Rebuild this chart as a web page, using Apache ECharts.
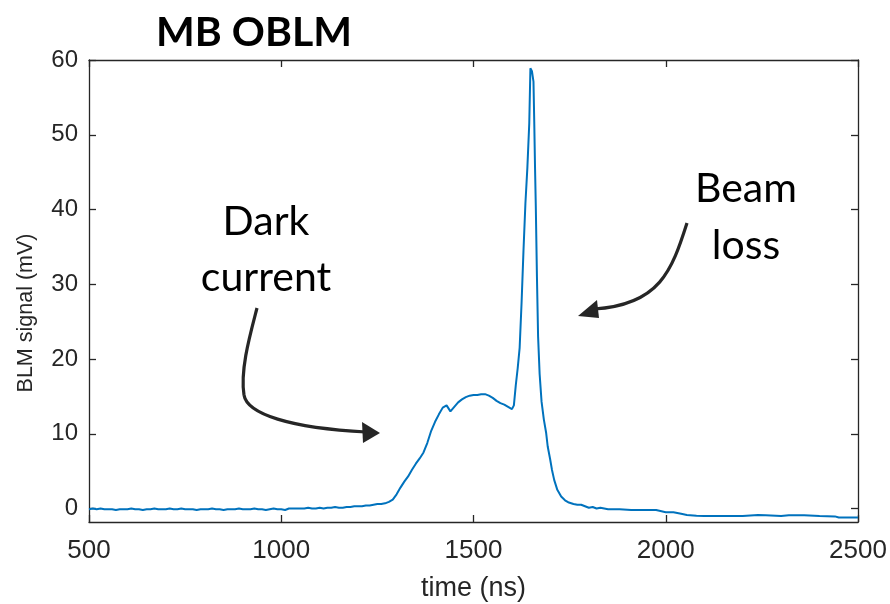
<!DOCTYPE html>
<html>
<head>
<meta charset="utf-8">
<script src="https://cdn.jsdelivr.net/npm/echarts@6/dist/echarts.min.js"></script>
<style>
  html, body { margin: 0; padding: 0; background: #fff; }
  #chart { width: 890px; height: 604px; }
</style>
</head>
<body>
<div id="chart"></div>
<script>
// Oscilloscope trace of the MB OBLM beam loss monitor
const timeNs = [
  500, 510, 520, 530, 540, 550, 560, 570, 580, 590,
  600, 610, 620, 630, 640, 650, 660, 670, 680, 690,
  700, 710, 720, 730, 740, 750, 760, 770, 780, 790,
  800, 810, 820, 830, 840, 850, 860, 870, 880, 890,
  900, 910, 920, 930, 940, 950, 960, 970, 980, 990,
  1000, 1010, 1020, 1030, 1040, 1050, 1060, 1070, 1080, 1090,
  1100, 1110, 1120, 1130, 1140, 1150, 1160, 1170, 1180, 1190,
  1200, 1210, 1220, 1230, 1240, 1250, 1260, 1270, 1280, 1290,
  1300, 1310, 1320, 1330, 1340, 1350, 1360, 1370, 1380, 1390,
  1400, 1410, 1420, 1430, 1440, 1450, 1460, 1470, 1480, 1490,
  1500, 1510, 1520, 1530, 1540, 1550, 1560, 1570, 1580, 1590,
  1600, 1605, 1610, 1615, 1620, 1625, 1630, 1635, 1640, 1645,
  1648, 1652, 1656, 1658, 1660, 1662, 1665, 1668, 1672, 1677,
  1683, 1689, 1693, 1699, 1704, 1710, 1718, 1728, 1738, 1748,
  1760, 1770, 1780, 1790, 1800, 1810, 1820, 1830, 1840, 1850,
  1880, 1910, 1940, 1975, 1980, 2000, 2020, 2040, 2055, 2080,
  2100, 2150, 2200, 2240, 2260, 2300, 2320, 2360, 2400, 2440,
  2450, 2500
];
const signalMv = [
  -0.1, 0.0, -0.1, 0.0, -0.1, -0.1, -0.1, -0.2, -0.1, -0.1,
  -0.1, 0.0, -0.1, -0.1, -0.2, -0.1, -0.1, 0.0, -0.1, -0.1,
  -0.1, 0.0, -0.1, -0.1, 0.0, -0.1, -0.1, -0.1, -0.2, -0.1,
  -0.1, -0.1, 0.0, -0.1, -0.1, -0.2, -0.1, -0.1, -0.1, 0.0,
  -0.1, -0.1, -0.1, 0.0, -0.1, -0.1, -0.2, -0.1, 0.0, -0.1,
  -0.1, -0.2, 0.0, 0.0, 0.0, 0.0, 0.0, 0.1, 0.0, 0.0,
  0.1, 0.0, 0.1, 0.1, 0.2, 0.1, 0.1, 0.2, 0.2, 0.3,
  0.3, 0.3, 0.4, 0.4, 0.5, 0.6, 0.6, 0.7, 0.9, 1.2,
  1.9, 2.8, 3.6, 4.3, 5.2, 6.0, 6.7, 7.5, 8.8, 10.4,
  11.6, 12.6, 13.5, 13.8, 13.0, 13.6, 14.2, 14.6, 14.9, 15.1,
  15.2, 15.2, 15.3, 15.3, 15.1, 14.8, 14.4, 14.1, 13.9, 13.6,
  13.3, 13.8, 16.5, 18.8, 21.5, 27.5, 34.5, 40.8, 45.5, 51.5,
  58.9, 58.5, 57.1, 51.7, 45.7, 40.5, 31.0, 23.0, 18.0, 14.3,
  11.9, 10.1, 8.3, 6.7, 5.2, 3.8, 2.5, 1.6, 1.1, 0.8,
  0.6, 0.5, 0.5, 0.3, 0.1, 0.2, 0.0, 0.1, 0.0, -0.1,
  -0.1, -0.2, -0.2, -0.2, -0.45, -0.5, -0.5, -0.7, -0.85, -0.95,
  -1.0, -1.0, -1.0, -0.85, -0.9, -1.0, -0.9, -0.9, -1.0, -1.05,
  -1.2, -1.2
];
const xTicks = [500, 1000, 1500, 2000, 2500];
const yTicks = [0, 10, 20, 30, 40, 50, 60];

const ink = '#262626';
const chart = echarts.init(document.getElementById('chart'), null, { renderer: 'canvas' });

const boxAxis = {
  axisLine: { show: true, onZero: false, lineStyle: { color: ink, width: 1.3 } },
  axisTick: { show: true, inside: true, length: 7, lineStyle: { color: ink, width: 1.3 } },
  splitLine: { show: false }
};

chart.setOption({
  animation: false,
  backgroundColor: '#fff',
  title: {
    text: 'MB OBLM',
    left: 249, top: 7, textAlign: 'center',
    textStyle: { fontFamily: 'Lato', fontWeight: 'bold', fontSize: 41, color: '#000' }
  },
  grid: { left: 89, right: 32, top: 60, bottom: 82, containLabel: false, outerBoundsMode: 'none' },
  xAxis: [
    Object.assign({}, boxAxis, {
      type: 'value', min: 500, max: 2500, interval: 500,
      name: 'time (ns)', nameLocation: 'middle', nameGap: 53,
      nameTextStyle: { fontFamily: 'Liberation Sans', fontSize: 27, color: ink },
      axisLabel: { margin: 16, fontFamily: 'Liberation Sans', fontSize: 26, color: ink,
        customValues: xTicks, formatter: v => String(v) },
      axisTick: Object.assign({}, boxAxis.axisTick, { customValues: xTicks })
    }),
    Object.assign({}, boxAxis, {
      type: 'value', position: 'top', min: 500, max: 2500, interval: 500,
      axisLabel: { show: false },
      axisTick: Object.assign({}, boxAxis.axisTick, { customValues: xTicks })
    })
  ],
  yAxis: [
    Object.assign({}, boxAxis, {
      type: 'value', min: -1.8, max: 60,
      name: 'BLM signal (mV)', nameLocation: 'middle', nameGap: 52,
      nameTextStyle: { fontFamily: 'Liberation Sans', fontSize: 21.5, color: ink, padding: [0, 44, 0, 0] },
      axisLabel: { margin: 11, fontFamily: 'Liberation Sans', fontSize: 24, color: ink,
        customValues: yTicks, formatter: v => String(v) },
      axisTick: Object.assign({}, boxAxis.axisTick, { customValues: yTicks })
    }),
    Object.assign({}, boxAxis, {
      type: 'value', position: 'right', min: -1.8, max: 60,
      axisLabel: { show: false },
      axisTick: Object.assign({}, boxAxis.axisTick, { customValues: yTicks })
    })
  ],
  series: [{
    type: 'line',
    data: timeNs.map((t, i) => [t, signalMv[i]]),
    xAxisIndex: 0, yAxisIndex: 0,
    showSymbol: false,
    lineStyle: { color: '#0072BD', width: 2 },
    clip: true
  }],
  graphic: [
    // callout labels
    { type: 'text', x: 266, y: 222, style: { text: 'Dark', font: '41px Lato', fill: '#000', align: 'center', verticalAlign: 'middle' } },
    { type: 'text', x: 266, y: 278, style: { text: 'current', font: '41px Lato', fill: '#000', align: 'center', verticalAlign: 'middle' } },
    { type: 'text', x: 746, y: 189, style: { text: 'Beam', font: '41px Lato', fill: '#000', align: 'center', verticalAlign: 'middle' } },
    { type: 'text', x: 746, y: 246, style: { text: 'loss', font: '41px Lato', fill: '#000', align: 'center', verticalAlign: 'middle' } },
    // curved arrow toward the dark current bump
    { type: 'bezierCurve', shape: { x1: 257, y1: 308, x2: 244, y2: 395, cpx1: 250, cpy1: 335, cpx2: 240, cpy2: 370 },
      style: { stroke: '#262626', lineWidth: 3.2, fill: null } },
    { type: 'bezierCurve', shape: { x1: 244, y1: 395, x2: 366, y2: 432, cpx1: 247, cpy1: 414, cpx2: 290, cpy2: 428 },
      style: { stroke: '#262626', lineWidth: 3.2, fill: null } },
    { type: 'polygon', shape: { points: [[380, 433], [362, 422], [363, 443]] }, style: { fill: '#262626' } },
    // curved arrow toward the beam loss peak
    { type: 'bezierCurve', shape: { x1: 687, y1: 223, x2: 594, y2: 309, cpx1: 672, cpy1: 270, cpx2: 660, cpy2: 305 },
      style: { stroke: '#262626', lineWidth: 3.2, fill: null } },
    { type: 'polygon', shape: { points: [[578, 316], [597, 300], [599, 318]] }, style: { fill: '#262626' } }
  ]
});
</script>
</body>
</html>
